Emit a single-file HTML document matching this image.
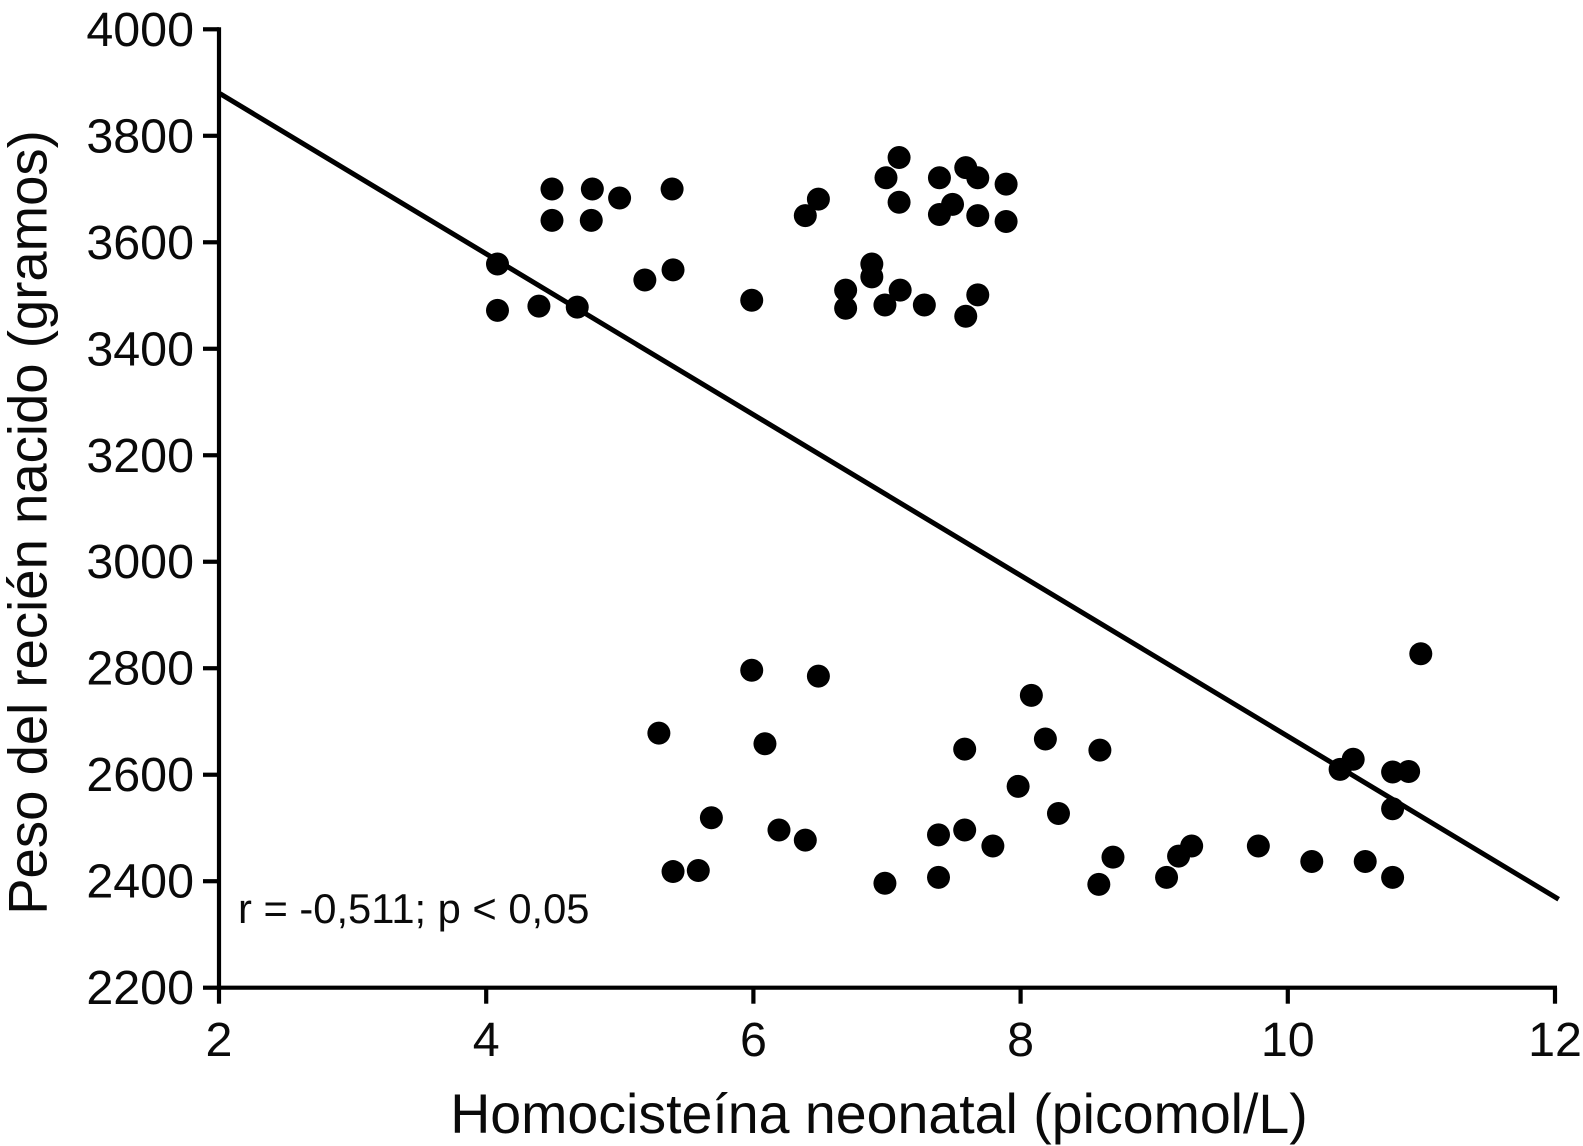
<!DOCTYPE html>
<html lang="es">
<head>
<meta charset="utf-8">
<title>Peso del recién nacido vs homocisteína neonatal</title>
<style>
html,body{margin:0;padding:0;background:#fff;}
svg{display:block;}
text{font-family:"Liberation Sans",Arial,sans-serif;fill:#0a0a0a;}
</style>
</head>
<body>
<svg id="chart" xmlns="http://www.w3.org/2000/svg" width="1583" height="1146" viewBox="0 0 1583 1146">
<rect x="0" y="0" width="1583" height="1146" fill="#ffffff"/>
<g id="marks" transform="translate(1,1)"></g>
<g id="axes"></g>
<text x="879" y="1133" font-size="55.5" text-anchor="middle">Homocisteína neonatal (picomol/L)</text>
<text transform="translate(46.7,522.5) rotate(-90)" font-size="54.5" text-anchor="middle">Peso del recién nacido (gramos)</text>
<text x="238" y="923" font-size="41.7">r = -0,511; p &lt; 0,05</text>
</svg>
<script>
const xTicks = [2, 4, 6, 8, 10, 12];
const yTicks = [2200, 2400, 2600, 2800, 3000, 3200, 3400, 3600, 3800, 4000];
const upperHomocysteine = [4.077, 4.077, 4.387, 4.674, 4.485, 4.485, 4.787, 4.779, 4.991, 5.384, 5.391, 5.18, 5.98, 6.381, 6.479, 6.683, 6.683, 6.879, 6.879, 6.977, 6.985, 7.083, 7.083, 7.091, 7.272, 7.385, 7.385, 7.483, 7.582, 7.672, 7.672, 7.884, 7.884, 7.672, 7.582];
const upperWeight = [3561, 3474, 3482, 3480, 3702, 3643, 3702, 3643, 3685, 3702, 3550, 3531, 3493, 3652, 3683, 3512, 3478, 3561, 3537, 3484, 3723, 3761, 3677, 3512, 3484, 3723, 3654, 3673, 3742, 3723, 3652, 3711, 3641, 3503, 3463];
const lowerHomocysteine = [10.988, 5.98, 6.479, 5.285, 6.079, 5.678, 6.184, 6.381, 5.391, 5.58, 6.977, 7.378, 7.378, 7.574, 7.574, 7.785, 7.974, 8.073, 8.178, 8.276, 8.586, 8.578, 8.684, 9.085, 9.175, 9.273, 9.772, 10.172, 10.384, 10.482, 10.572, 10.777, 10.897, 10.777, 10.777];
const lowerWeight = [2829, 2798, 2787, 2680, 2660, 2521, 2498, 2479, 2420, 2422, 2398, 2489, 2409, 2498, 2650, 2468, 2580, 2751, 2669, 2529, 2648, 2396, 2447, 2409, 2449, 2468, 2468, 2439, 2612, 2631, 2439, 2607, 2608, 2538, 2409];
const trendHomocysteine = [2, 12.02];
const trendWeight = [3881, 2368];

const NS = 'http://www.w3.org/2000/svg';
const plot = {left: 219, right: 1555, top: 29.3, bottom: 987.7};
const xMin = 2, xMax = 12, yMin = 2200, yMax = 4000;
function xScale(v) { return plot.left + (v - xMin) / (xMax - xMin) * (plot.right - plot.left); }
function yScale(v) { return plot.bottom - (v - yMin) / (yMax - yMin) * (plot.bottom - plot.top); }
function make(tag, attrs, parent) {
  const el = document.createElementNS(NS, tag);
  for (const k in attrs) el.setAttribute(k, attrs[k]);
  parent.appendChild(el);
  return el;
}
const axes = document.getElementById('axes');
const marks = document.getElementById('marks');
const axisStyle = {stroke: '#000', 'stroke-width': 4.2, fill: 'none'};

const yAxis = make('line', Object.assign({x1: plot.left, x2: plot.left, y1: plot.top - 2, y2: plot.bottom + 2}, axisStyle), axes);


const xAxis = make('line', Object.assign({x1: plot.left - 2, x2: plot.right + 2, y1: plot.bottom, y2: plot.bottom}, axisStyle), axes);



xTicks.forEach(function (t) {
  const px = xScale(t);
  const tick = make('line', Object.assign({x1: px, x2: px, y1: plot.bottom, y2: plot.bottom + 16}, axisStyle), axes);
  
  
  const label = make('text', {x: px, y: 1056, 'font-size': 48.4, 'text-anchor': 'middle'}, axes);
  label.textContent = t;
  
  
});
yTicks.forEach(function (t) {
  const py = yScale(t);
  const tick = make('line', Object.assign({x1: plot.left - 16, x2: plot.left, y1: py, y2: py}, axisStyle), axes);
  
  
  const label = make('text', {x: 194, y: py + 16.5, 'font-size': 48.4, 'text-anchor': 'end'}, axes);
  label.textContent = t;
  
  
});

const trend = make('line', {x1: xScale(trendHomocysteine[0]), y1: yScale(trendWeight[0]), x2: xScale(trendHomocysteine[1]), y2: yScale(trendWeight[1]), stroke: '#000', 'stroke-width': 5}, marks);



upperHomocysteine.forEach(function (v, i) {
  const dot = make('circle', {cx: xScale(v), cy: yScale(upperWeight[i]), r: 11.5, fill: '#000'}, marks);
  
  
});
lowerHomocysteine.forEach(function (v, i) {
  const dot = make('circle', {cx: xScale(v), cy: yScale(lowerWeight[i]), r: 11.5, fill: '#000'}, marks);
  
  
});
</script>
</body>
</html>
